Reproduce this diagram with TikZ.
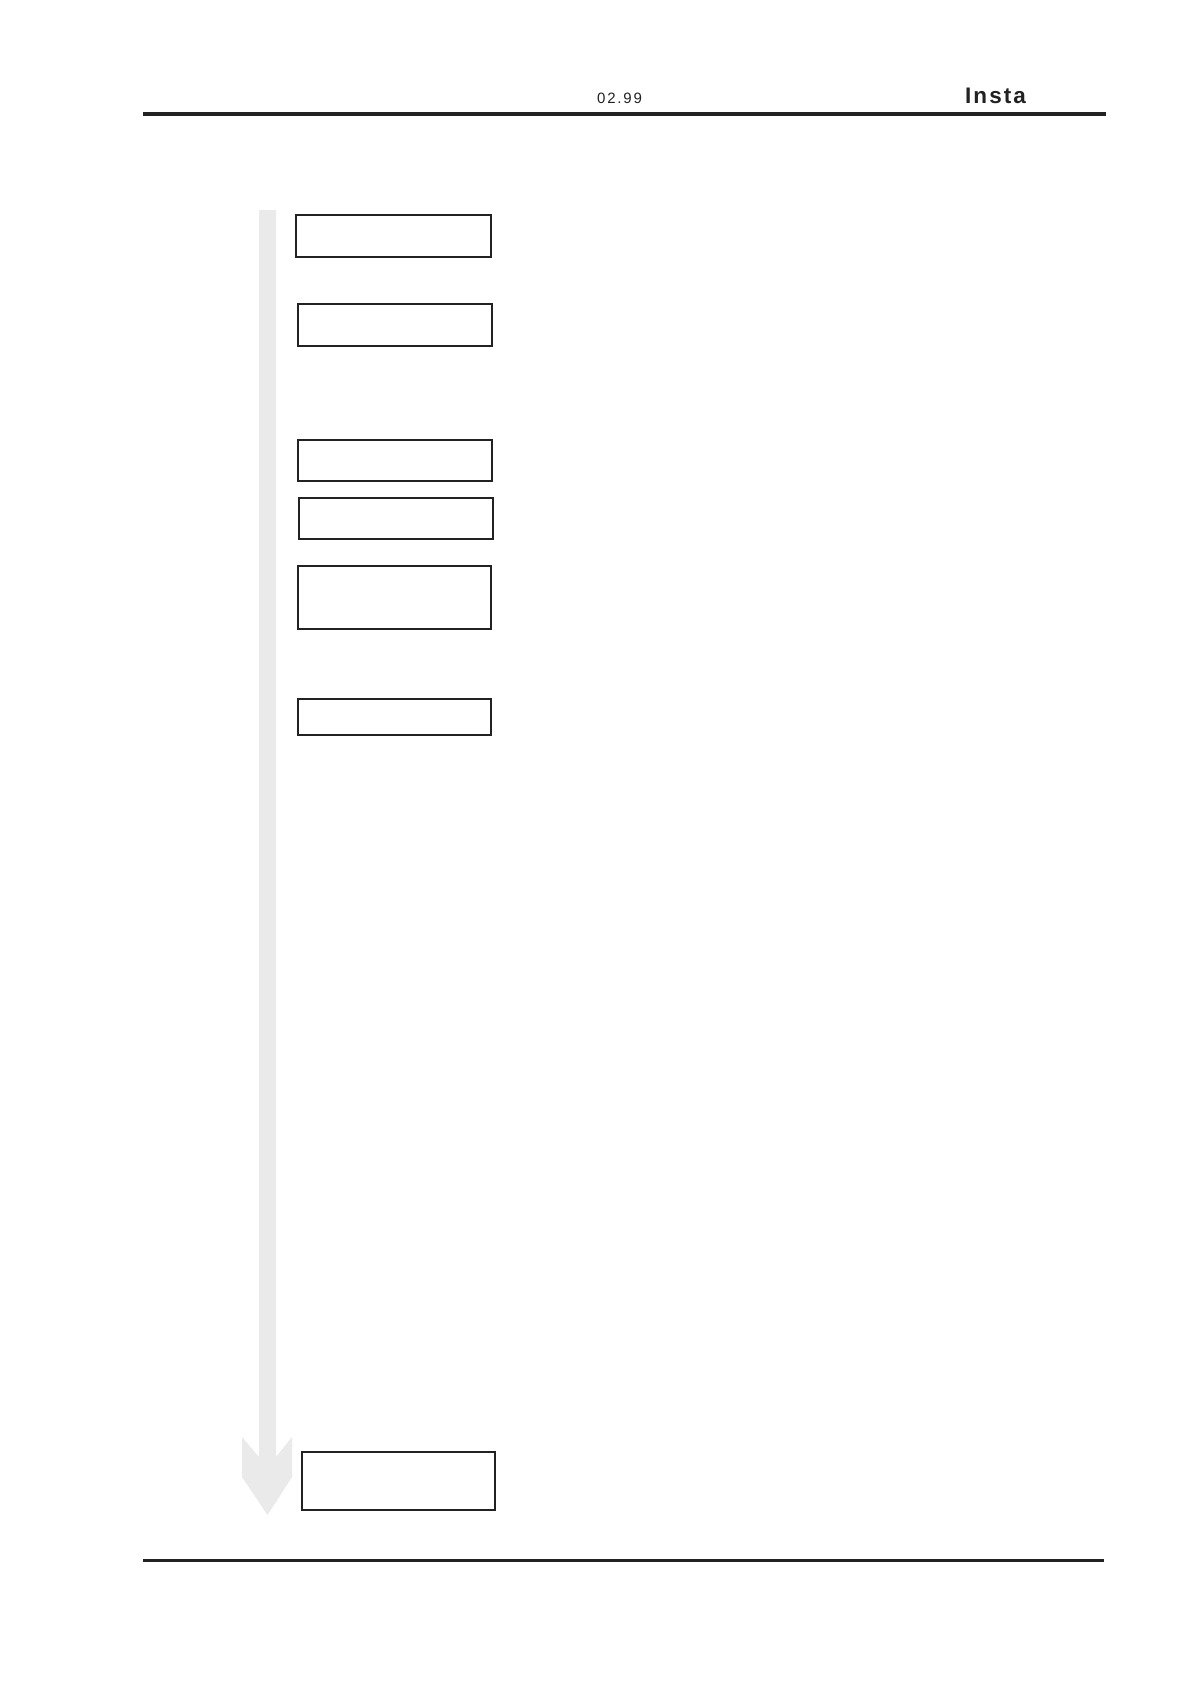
\documentclass[tikz,border=0pt]{standalone}
\usepackage{fontspec}
\setmainfont{Liberation Sans}
\newfontfamily\datefont[LetterSpace=12]{Liberation Sans}
\newfontfamily\titlefont[LetterSpace=9]{Liberation Sans}
\definecolor{arrowgray}{HTML}{EAEAEA}
\definecolor{ink}{HTML}{222222}
\tikzset{
  stepbox/.style={draw=ink, line width=1.6pt, fill=white, inner sep=0pt, rectangle},
  rulethick/.style={draw=ink, line width=4pt},
  rulethin/.style={draw=ink, line width=3pt},
}
\begin{document}
\begin{tikzpicture}[x=1pt,y=-1pt]
\useasboundingbox (0,0) rectangle (1190,1684);
\fill[white] (0,0) rectangle (1190,1684);
% header
\node[anchor=base west, inner sep=0pt, text=ink] (date) at (597,103.5) {\datefont\fontsize{15}{18}\selectfont 02.99};
\node[anchor=base west, inner sep=0pt, text=ink] (title) at (965,103.5) {\titlefont\bfseries\fontsize{22.5}{26}\selectfont Insta};
\draw[rulethick] (143,114) -- (1106,114);
% gray flow arrow
\fill[arrowgray] (259,210) -- (276,210) -- (276,1457) -- (292,1437) -- (292,1477)
  -- (267.5,1515) -- (242,1477) -- (242,1437) -- (259,1457) -- cycle;
% boxes
\node[stepbox, minimum width=195.4pt, minimum height=42.4pt] (b1) at (393.5,236) {};
\node[stepbox, minimum width=194.4pt, minimum height=42.4pt] (b2) at (395,325) {};
\node[stepbox, minimum width=194.4pt, minimum height=41.4pt] (b3) at (395,460.5) {};
\node[stepbox, minimum width=194.4pt, minimum height=41.4pt] (b4) at (396,518.5) {};
\node[stepbox, minimum width=193.4pt, minimum height=63.4pt] (b5) at (394.5,597.5) {};
\node[stepbox, minimum width=193.4pt, minimum height=36.4pt] (b6) at (394.5,717) {};
\node[stepbox, minimum width=193.4pt, minimum height=58.4pt] (b7) at (398.5,1481) {};
% footer rule
\draw[rulethin] (143,1560) -- (1104,1560);
\end{tikzpicture}
\end{document}
